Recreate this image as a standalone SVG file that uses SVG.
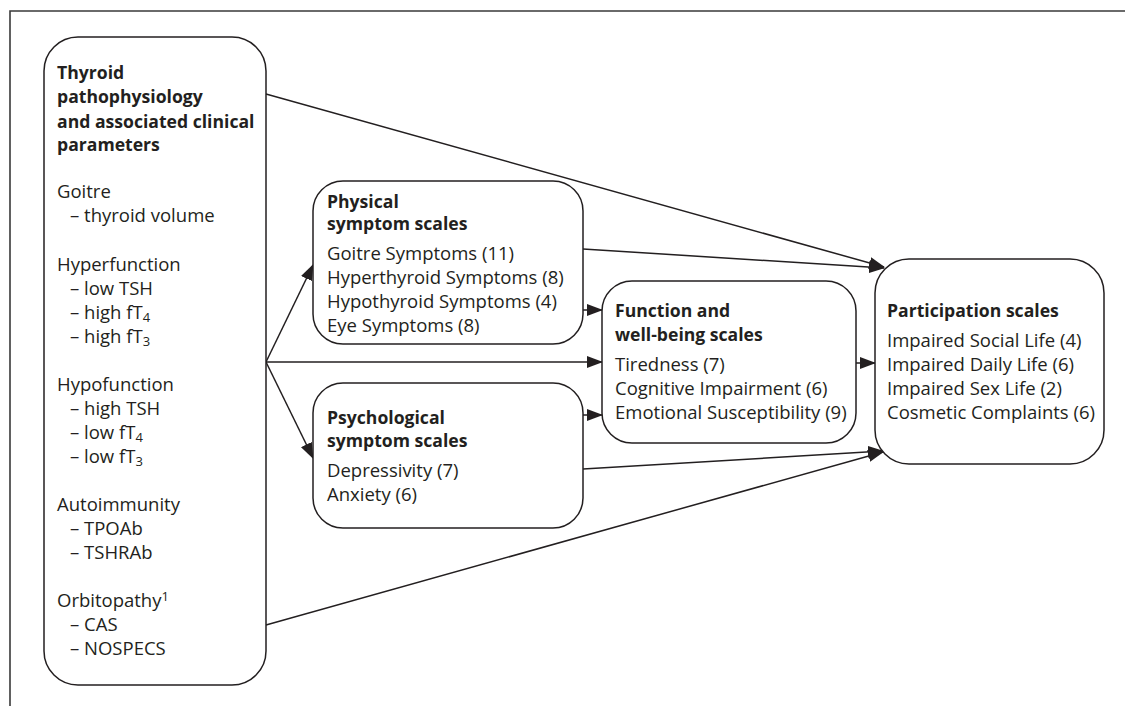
<svg xmlns="http://www.w3.org/2000/svg" width="1125" height="706" viewBox="0 0 1125 706">
<defs>
<style>
.frame{fill:none;stroke:#3a3a3a;stroke-width:1.6}
.box{fill:#fff;stroke:#231f20;stroke-width:1.5}
.t{font-family:"Open Sans","Liberation Sans",sans-serif;font-size:18.5px;fill:#231f20}
.b{font-weight:bold;font-size:17.6px}
.s{font-size:13px}
.c{fill:none;stroke:#231f20;stroke-width:1.5}
</style>
<marker id="ah" markerUnits="userSpaceOnUse" markerWidth="16" markerHeight="12" viewBox="0 0 16 12" refX="15" refY="6" orient="auto">
<path d="M0,0 L16,6 L0,12 z" fill="#231f20"/>
</marker>
</defs>
<rect width="1125" height="706" fill="#fff"/>
<path class="frame" d="M10,706 V11 H1125"/>

<g id="connectors">
<line class="c" x1="266" y1="94" x2="884" y2="267" marker-end="url(#ah)"/>
<line class="c" x1="583" y1="249" x2="884" y2="268" marker-end="url(#ah)"/>
<line class="c" x1="583" y1="310" x2="602" y2="310" marker-end="url(#ah)"/>
<line class="c" x1="266" y1="362" x2="313" y2="265" marker-end="url(#ah)"/>
<line class="c" x1="266" y1="362" x2="602" y2="362" marker-end="url(#ah)"/>
<line class="c" x1="266" y1="362" x2="313" y2="458" marker-end="url(#ah)"/>
<line class="c" x1="583" y1="415" x2="602" y2="415" marker-end="url(#ah)"/>
<line class="c" x1="856" y1="363" x2="875" y2="363" marker-end="url(#ah)"/>
<line class="c" x1="583" y1="469" x2="883" y2="451" marker-end="url(#ah)"/>
<line class="c" x1="266" y1="625" x2="883" y2="452" marker-end="url(#ah)"/>
</g>

<g id="thyroid">
<rect class="box" x="44" y="37" width="222" height="648" rx="34" ry="34"/>
<text class="t b" x="57" y="79">Thyroid</text>
<text class="t b" x="57" y="103">pathophysiology</text>
<text class="t b" x="57" y="128">and associated clinical</text>
<text class="t b" x="57" y="151">parameters</text>
<text class="t" x="57" y="198">Goitre</text>
<text class="t" x="70" y="222">– thyroid volume</text>
<text class="t" x="57" y="271">Hyperfunction</text>
<text class="t" x="70" y="295">– low TSH</text>
<text class="t" x="70" y="319">– high fT<tspan class="s" dy="3">4</tspan></text>
<text class="t" x="70" y="343">– high fT<tspan class="s" dy="3">3</tspan></text>
<text class="t" x="57" y="391">Hypofunction</text>
<text class="t" x="70" y="415">– high TSH</text>
<text class="t" x="70" y="439">– low fT<tspan class="s" dy="3">4</tspan></text>
<text class="t" x="70" y="463">– low fT<tspan class="s" dy="3">3</tspan></text>
<text class="t" x="57" y="511">Autoimmunity</text>
<text class="t" x="70" y="535">– TPOAb</text>
<text class="t" x="70" y="559">– TSHRAb</text>
<text class="t" x="57" y="607">Orbitopathy<tspan class="s" dy="-6">1</tspan></text>
<text class="t" x="70" y="631">– CAS</text>
<text class="t" x="70" y="655">– NOSPECS</text>
</g>

<g id="physical">
<rect class="box" x="313" y="181" width="270" height="163" rx="30" ry="30"/>
<text class="t b" x="327" y="208">Physical</text>
<text class="t b" x="327" y="230">symptom scales</text>
<text class="t" x="327" y="260">Goitre Symptoms (11)</text>
<text class="t" x="327" y="284">Hyperthyroid Symptoms (8)</text>
<text class="t" x="327" y="308">Hypothyroid Symptoms (4)</text>
<text class="t" x="327" y="332">Eye Symptoms (8)</text>
</g>

<g id="psychological">
<rect class="box" x="313" y="383" width="270" height="145" rx="30" ry="30"/>
<text class="t b" x="327" y="424">Psychological</text>
<text class="t b" x="327" y="447">symptom scales</text>
<text class="t" x="327" y="477">Depressivity (7)</text>
<text class="t" x="327" y="501">Anxiety (6)</text>
</g>

<g id="function">
<rect class="box" x="602" y="281" width="254" height="162" rx="30" ry="30"/>
<text class="t b" x="615" y="317">Function and</text>
<text class="t b" x="615" y="341">well-being scales</text>
<text class="t" x="615" y="371">Tiredness (7)</text>
<text class="t" x="615" y="395">Cognitive Impairment (6)</text>
<text class="t" x="615" y="419">Emotional Susceptibility (9)</text>
</g>

<g id="participation">
<rect class="box" x="875" y="259" width="229" height="205" rx="34" ry="34"/>
<text class="t b" x="887" y="317">Participation scales</text>
<text class="t" x="887" y="347">Impaired Social Life (4)</text>
<text class="t" x="887" y="371">Impaired Daily Life (6)</text>
<text class="t" x="887" y="395">Impaired Sex Life (2)</text>
<text class="t" x="887" y="419">Cosmetic Complaints (6)</text>
</g>
</svg>
